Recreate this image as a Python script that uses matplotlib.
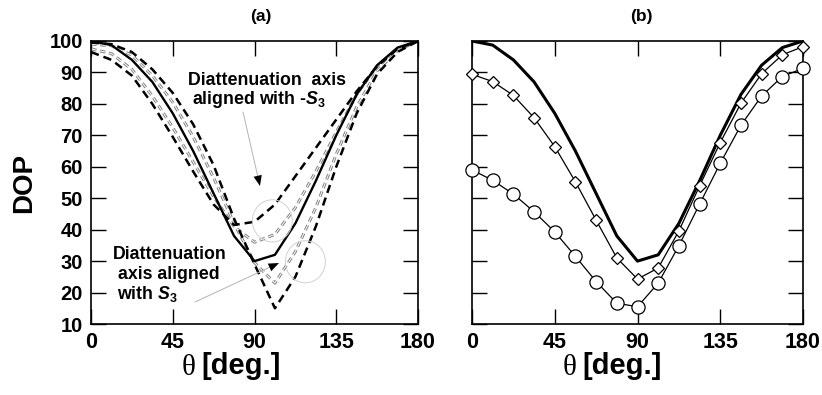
import matplotlib
matplotlib.use("Agg")
import matplotlib.pyplot as plt
from matplotlib import font_manager as fm
from matplotlib.patches import Ellipse

# ---------------- data ----------------
theta = [0, 11.25, 22.5, 33.75, 45, 56.25, 67.5, 78.75, 90, 101.25,
         112.5, 123.75, 135, 146.25, 157.5, 168.75, 180]

dop_ref = [100, 98.7, 94, 87, 77, 65, 51.5, 38, 30, 32,
           42, 55.5, 70, 83, 92.3, 97.9, 100]

# (a) diattenuation axis aligned with -S3 (black dashed) / S3 (black dashed)
dop_a_minus = [96.5, 94, 89, 80, 69.5, 58.5, 48, 41.5, 42.5, 48,
               57, 66, 75, 84, 92, 97.5, 100]
dop_a_gray1 = [97.5, 96, 91, 82.5, 72.5, 61.5, 50.5, 41, 36, 38.5,
               47, 58.5, 71, 83, 92, 97.5, 100]
dop_a_gray2 = [99, 98.5, 95.5, 89, 80.5, 69.5, 56.5, 42, 29.5, 23,
               33, 47, 64, 79, 90.5, 97, 100]
dop_a_plus = [99.5, 99, 96.5, 91, 83.5, 73.5, 60.5, 43.5, 29, 15,
              25, 41, 60, 77, 89.5, 96.5, 100]

# (b) marker series
dop_b_diamond = [89.4, 87.1, 82.7, 75.6, 66.4, 55.2, 43.0, 31.0, 24.3, 27.8,
                 39.6, 53.9, 67.7, 80.2, 89.6, 95.6, 98.2]
dop_b_circle = [59.0, 55.7, 51.3, 45.7, 39.3, 31.5, 23.5, 16.6, 15.5, 23.0,
                34.9, 48.1, 61.1, 73.2, 82.5, 88.7, 91.3]

xticks = [0, 45, 90, 135, 180]
yticks = [10, 20, 30, 40, 50, 60, 70, 80, 90, 100]

# ---------------- fonts ----------------
names = {f.name for f in fm.fontManager.ttflist}
BOLD = "Liberation Sans" if "Liberation Sans" in names else "DejaVu Sans"
NARROW = "Liberation Sans Narrow" if "Liberation Sans Narrow" in names else None
SERIF = "Liberation Serif" if "Liberation Serif" in names else "DejaVu Serif"

plt.rcParams["font.family"] = [BOLD, "DejaVu Sans"]
plt.rcParams["mathtext.fontset"] = "custom"
plt.rcParams["mathtext.rm"] = BOLD + ":bold"
plt.rcParams["mathtext.it"] = BOLD + ":italic:bold"
plt.rcParams["mathtext.bf"] = BOLD + ":bold"
plt.rcParams["lines.scale_dashes"] = False

if NARROW:
    xt_font = dict(family=NARROW, weight="bold", size=18)
    xl_font = dict(family=NARROW, weight="bold", size=24)
else:
    xt_font = dict(family=BOLD, weight="bold", size=15.5)
    xl_font = dict(family=BOLD, weight="bold", size=21)

W, H = 822, 395
fig = plt.figure(figsize=(W / 100, H / 100), dpi=100)


def fx(px):
    return px / W


def fy(py):
    return 1 - py / H


top, bot = 41, 324
axA = fig.add_axes([fx(91), fy(bot), (418 - 91) / W, (bot - top) / H])
axB = fig.add_axes([fx(472), fy(bot), (803 - 472) / W, (bot - top) / H])

for ax in (axA, axB):
    ax.set_xlim(0, 180)
    ax.set_ylim(10, 100)
    ax.set_xticks(xticks)
    ax.set_yticks(yticks)
    ax.tick_params(direction="in", length=11, width=1.0, top=True, right=True,
                   pad=6)
    for s in ax.spines.values():
        s.set_linewidth(1.2)

axA.set_yticklabels([str(v) for v in yticks], fontsize=14.5, fontweight="bold",
                    family=BOLD)
axB.set_yticklabels([])
for ax in (axA, axB):
    ax.set_xticklabels([str(v) for v in xticks], **xt_font)

# ---------------- panel (a) ----------------
blk_dash = (6.0, 3.6)
gray_dash = (4.0, 2.6)


def gray_line(ax, y):
    ax.plot(theta, y, color="0.5", lw=2.1, dashes=gray_dash, zorder=2)
    ax.plot(theta, y, color="white", lw=0.7, dashes=gray_dash, zorder=2.1)


gray_line(axA, dop_a_gray1)
gray_line(axA, dop_a_gray2)
axA.plot(theta, dop_a_minus, color="black", lw=1.8, dashes=blk_dash, zorder=3)
axA.plot(theta, dop_a_plus, color="black", lw=1.8, dashes=blk_dash, zorder=3)
axA.plot(theta, dop_ref, color="black", lw=1.7, zorder=4)

# gray circles marking the minima
axA.add_patch(Ellipse((99.8, 42.8), 22, 13.4, fill=False, ec="0.82", lw=0.7,
                      zorder=5))
axA.add_patch(Ellipse((118.0, 29.8), 22, 13.4, fill=False, ec="0.82", lw=0.7,
                      zorder=5))


def p2d(px, py):
    return ((px - 91) / 327 * 180, 100 - (py - top) / (bot - top) * 90)


ann_font = dict(fontsize=12.8, fontweight="bold", family=BOLD)
for txt, (px, py) in [("Diattenuation  axis", (188, 85)),
                      ("aligned with -$S_3$", (192, 104)),
                      ("Diattenuation", (113, 259)),
                      ("axis aligned", (118, 279)),
                      ("with $S_3$", (117, 299))]:
    axA.text(*p2d(px, py), txt, ha="left", va="baseline", zorder=6, **ann_font)

# arrows (gray shaft, black head)
for (sx, sy), (tx, ty) in [((243, 112), (260, 186)), ((195, 302), (279, 263))]:
    s = p2d(sx, sy)
    t = p2d(tx, ty)
    axA.annotate("", xy=t, xytext=s,
                 arrowprops=dict(arrowstyle="-", color="0.7", lw=0.7,
                                 shrinkA=0, shrinkB=6))
    k = 0.15
    m = (t[0] - (t[0] - s[0]) * k, t[1] - (t[1] - s[1]) * k)
    axA.annotate("", xy=t, xytext=m,
                 arrowprops=dict(arrowstyle="-|>,head_length=0.75,head_width=0.3",
                                 color="black", lw=0.01, shrinkA=0, shrinkB=0))

# ---------------- panel (b) ----------------
axB.plot(theta, dop_ref, color="black", lw=2.2, zorder=3)
axB.plot(theta, dop_b_diamond, color="black", lw=0.9, marker="D", ms=6.3,
         mfc="white", mec="black", mew=0.9, clip_on=False, zorder=4)
axB.plot(theta, dop_b_circle, color="black", lw=0.9, marker="o", ms=9.5,
         mfc="white", mec="black", mew=0.9, clip_on=False, zorder=4)

# ---------------- labels ----------------
fig.text(fx(261), fy(16), "(a)", ha="center", va="center", fontsize=12.5,
         fontweight="bold", family=BOLD)
fig.text(fx(641), fy(16), "(b)", ha="center", va="center", fontsize=12.5,
         fontweight="bold", family=BOLD)
fig.text(fx(24), fy(183), "DOP", ha="center", va="center", rotation=90,
         fontsize=20, fontweight="bold", family=BOLD)

for cx, lx in [(189, 201), (570, 582)]:
    fig.text(fx(cx), fy(368), "θ", ha="center", va="center", fontsize=21,
             family=SERIF)
    fig.text(fx(lx), fy(366), "[deg.]", ha="left", va="center", **xl_font)

fig.savefig("out.png", dpi=100)
